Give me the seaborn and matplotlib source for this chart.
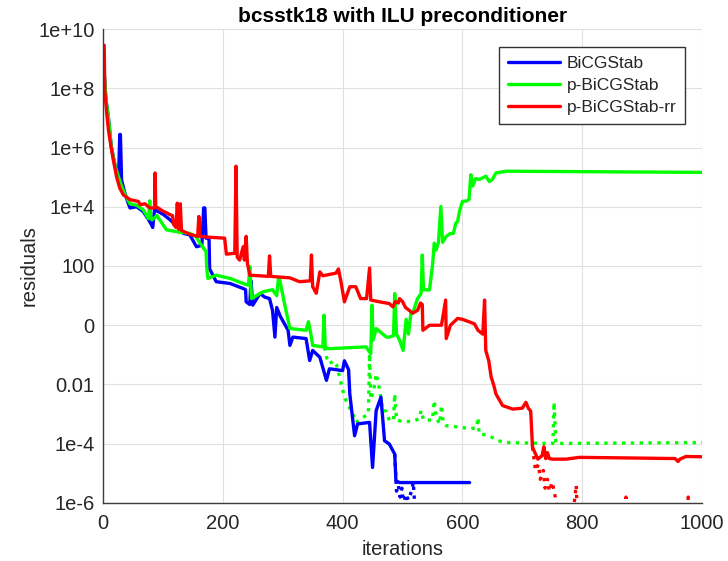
import matplotlib
matplotlib.use("Agg")
import matplotlib.pyplot as plt
import numpy as np
import pandas as pd
import seaborn as sns

# data (iteration, log10 of residual)
blue_it = [0, 2, 5, 9, 14, 20, 26, 28, 29, 31, 36, 39, 45, 56, 67, 75, 81, 83, 86, 100,
           112, 125, 134, 145, 156, 165, 168, 170, 172, 175, 177, 178, 189, 212, 234, 238, 239, 245,
           247, 250, 262, 270, 278, 283, 287, 290, 296, 309, 312, 317, 339, 345, 350, 362,
           373, 378, 400, 403, 410, 412, 420, 425, 445, 450, 456, 464, 470, 478, 487, 489, 495, 612]
blue_lg = [9.4, 8.5, 7.6, 7.0, 6.0, 5.4, 5.0, 6.44, 6.44, 4.9, 4.5, 4.3, 3.96, 4.0, 3.84, 3.6,
           3.39, 3.3, 3.9, 3.75, 3.56, 3.3, 3.1, 3.05, 2.65, 2.7, 3.96, 3.96, 2.94, 2.94, 2.9, 1.9,
           1.47, 1.41, 1.24, 1.2, 0.79, 0.7, 1.5, 0.68, 1.07, 0.95, 0.9, 0.5, -0.4, 0.6, 0.3, -0.17,
           -0.68, -0.4, -0.45, -1.19, -0.85, -1.08, -1.86, -1.47, -1.53, -1.2, -1.5, -2.32, -3.73,
           -3.33, -3.28, -4.8, -2.88, -2.43, -3.9, -4.01, -4.35, -5.25, -5.31, -5.31]
blue_dot_it = [487, 490, 493, 496, 499, 502, 505, 510, 515, 518, 520, 525]
blue_dot_lg = [-4.35, -5.6, -5.4, -5.8, -5.5, -6.1, -5.7, -5.9, -5.6, -5.3, -5.95, -6.2]

green_it = [0, 2, 5, 9, 14, 20, 26, 31, 36, 45, 56, 67, 76, 78, 80, 82, 90, 106, 125, 145,
            155, 162, 170, 172, 173, 175, 189, 212, 234, 243, 245, 248, 267, 283, 290, 293, 295,
            303, 312, 339, 343, 347, 350, 367, 369, 371, 378, 439, 447, 449, 451, 456, 473,
            478, 485, 487, 490, 495, 501, 506, 510, 514, 517, 525, 531, 533, 535, 545, 550,
            553, 556, 560, 564, 567, 573, 580, 585, 589, 592, 595, 600, 608, 611, 614, 617, 622,
            628, 639, 645, 650, 656, 673, 1000]
green_lg = [9.4, 8.5, 7.6, 7.0, 6.0, 5.4, 5.0, 4.7, 4.45, 4.1, 4.05, 3.9, 3.6, 4.2, 3.6, 3.56,
            3.7, 3.22, 3.15, 3.1, 3.0, 2.77, 2.54, 2.5, 1.98, 1.58, 1.69, 1.58, 1.41, 1.35, 1.98,
            0.9, 1.13, 1.2, 1.0, 1.6, 1.53, 0.73, -0.11, -0.17, 0.12, -0.3, -0.68, -0.73, 0.34,
            -0.75, -0.79, -0.73, -0.96, 0.68, -0.5, -0.11, -0.4, -0.4, -0.35, 1.07, -0.3, -0.5,
            -0.85, 0.2, -0.3, 0.4, 0.4, 0.9, 1.07, 2.37, 1.2, 1.19, 2.0, 2.77, 2.54, 2.8, 4.01,
            2.8, 3.0, 3.1, 3.1, 3.45, 3.5, 3.84, 4.18, 4.2, 4.25, 5.08, 4.7, 4.95, 4.92, 5.03,
            4.85, 4.92, 5.14, 5.2, 5.16]
green_dot_it = [370, 373, 378, 385, 390, 395, 403, 417, 422, 435, 443, 445, 447, 452, 456,
                462, 467, 473, 478, 485, 487, 490, 500, 517, 528, 531, 535, 550, 553, 556, 562,
                565, 568, 573, 600, 612, 624, 626, 628, 640, 650, 660, 673, 745, 751, 753, 756,
                760, 1000]
green_dot_lg = [-0.75, -1.08, -1.3, -1.2, -1.35, -1.75, -2.43, -3.0, -3.28, -3.1, -3.0, -0.96,
                -2.5, -2.2, -1.64, -2.2, -2.88, -2.9, -3.22, -3.2, -2.32, -3.2, -3.25, -3.25,
                -3.15, -2.88, -3.2, -3.2, -2.54, -3.1, -3.33, -2.7, -3.3, -3.39, -3.45, -3.5,
                -3.45, -3.11, -3.67, -3.7, -3.79, -3.9, -3.96, -3.99, -3.99, -2.6, -3.99, -3.99,
                -3.96]

red_it = [0, 2, 3, 6, 9, 12, 17, 23, 28, 34, 45, 59, 62, 70, 78, 86, 87, 88, 92, 100, 106,
          110, 116, 118, 122, 124, 126, 129, 131, 145, 158, 160, 162, 178, 203, 206, 220, 222,
          224, 228, 234, 236, 239, 241, 245, 276, 278, 280, 312, 328, 346, 348, 350, 356, 362,
          367, 389, 393, 397, 403, 412, 422, 430, 440, 445, 447, 462, 478, 484, 488, 493, 495,
          500, 505, 517, 525, 530, 533, 534, 545, 556, 565, 572, 573, 580, 592, 600, 612, 620,
          626, 634, 637, 639, 644, 648, 652, 656, 667, 684, 700, 706, 710, 714, 717, 726, 733,
          736, 739, 742, 745, 750, 773, 795, 880, 955, 960, 963, 973, 1000]
red_lg = [9.45, 9.45, 7.9, 7.2, 6.6, 6.2, 5.6, 4.98, 4.63, 4.4, 4.24, 4.18, 4.07, 4.1, 3.96,
          3.96, 5.14, 4.0, 3.96, 3.85, 3.8, 3.75, 3.7, 3.4, 3.3, 4.12, 3.25, 4.1, 3.2, 3.07,
          3.0, 3.67, 3.0, 2.97, 2.94, 2.4, 2.43, 5.37, 2.3, 2.2, 2.65, 2.2, 3.0, 2.1, 1.69,
          1.65, 2.34, 1.65, 1.6, 1.47, 1.5, 2.37, 1.3, 1.08, 1.8, 1.67, 1.76, 1.9, 1.5, 0.79,
          1.3, 1.3, 0.9, 0.9, 1.93, 0.85, 0.79, 0.73, 0.62, 0.8, 0.75, 0.9, 0.8, 0.6, 0.41,
          0.5, 0.75, 0.7, -0.17, 0.0, 0.0, 0.0, 0.85, -0.45, 0.0, 0.23, 0.2, 0.11, 0.05, -0.17,
          -0.3, 0.85, -0.85, -1.2, -1.75, -2.0, -2.32, -2.71, -2.83, -2.8, -2.6, -2.8, -2.9,
          -4.12, -4.52, -4.4, -4.1, -4.5, -4.3, -4.5, -4.52, -4.52, -4.46, -4.48, -4.5, -4.6,
          -4.52, -4.43, -4.44]
red_dot_it = [717, 722, 727, 730, 735, 738, 742, 745, 750, 755, 760, 770, 785, 790, 792, 795,
              870, 873, 876, 895, 898, 901, 920, 922, 924, 975, 977, 980, 1000]
red_dot_lg = [-4.12, -4.9, -4.7, -5.2, -4.9, -5.5, -5.2, -5.6, -5.3, -5.8, -6.5, -6.8, -6.3,
              -5.4, -6.5, -6.8, -6.5, -5.8, -6.5, -6.5, -5.95, -6.5, -6.5, -5.95, -6.5, -6.5,
              -5.8, -6.5, -6.8]

y_ticks = [1e-6, 1e-4, 1e-2, 1e0, 1e2, 1e4, 1e6, 1e8, 1e10]
y_labels = ['1e-6', '1e-4', '0.01', '0', '100', '1e+4', '1e+6', '1e+8', '1e+10']
x_ticks = [0, 200, 400, 600, 800, 1000]

sns.set_style("white")
plt.rcParams['font.family'] = ['Liberation Sans', 'DejaVu Sans']

fig = plt.figure(figsize=(7.28, 5.61), dpi=100)
ax = fig.add_axes([0.1415, 0.1034, 0.8228, 0.8449])
ax.set_yscale('log')

# draw order: dotted under solid, blue < green < red
series = [
    (blue_it, blue_lg, blue_dot_it, blue_dot_lg, '#0000ff', 'BiCGStab'),
    (green_it, green_lg, green_dot_it, green_dot_lg, '#00ff00', 'p-BiCGStab'),
    (red_it, red_lg, red_dot_it, red_dot_lg, '#ff0000', 'p-BiCGStab-rr'),
]
for it, lg, dit, dlg, col, name in series:
    sns.lineplot(x=dit, y=10.0 ** np.array(dlg), ax=ax, color=col, lw=2.4,
                 linestyle=':', sort=False, estimator=None)
for it, lg, dit, dlg, col, name in series:
    sns.lineplot(x=it, y=10.0 ** np.array(lg), ax=ax, color=col, lw=2.4,
                 sort=False, estimator=None, label=name)

ax.set_xlim(0, 1000)
ax.set_ylim(1e-6, 1e10)
ax.set_yticks(y_ticks)
ax.set_yticklabels(y_labels)
ax.minorticks_off()
ax.set_xticks(x_ticks)
ax.grid(True, color='#e0e0e0', lw=0.8)
for s in ['top', 'right']:
    ax.spines[s].set_visible(False)
for s in ['left', 'bottom']:
    ax.spines[s].set_color('#3c3c3c')
    ax.spines[s].set_linewidth(1.0)
ax.tick_params(direction='in', length=5, color='#3c3c3c', labelsize=14.5,
               labelcolor='#262626')
ax.tick_params(axis='x', pad=8)
ax.tick_params(axis='y', pad=6)

ax.set_xlabel('iterations', fontsize=14.5, color='#262626', labelpad=5)
ax.set_ylabel('residuals', fontsize=14.5, color='#262626')
ax.yaxis.set_label_coords(-0.107, 0.5)
ax.set_title('bcsstk18 with ILU preconditioner', fontsize=15, fontweight='bold',
             color='black', pad=5)

leg = ax.legend(loc='upper right', bbox_to_anchor=(0.972, 0.962), fontsize=12.5,
                handlelength=3.0, frameon=True, fancybox=False, framealpha=1,
                borderpad=0.5, labelspacing=0.4, handletextpad=0.4, borderaxespad=0)
leg.get_frame().set_edgecolor('#333333')
leg.get_frame().set_linewidth(1.0)

fig.savefig('out.png', dpi=100)
